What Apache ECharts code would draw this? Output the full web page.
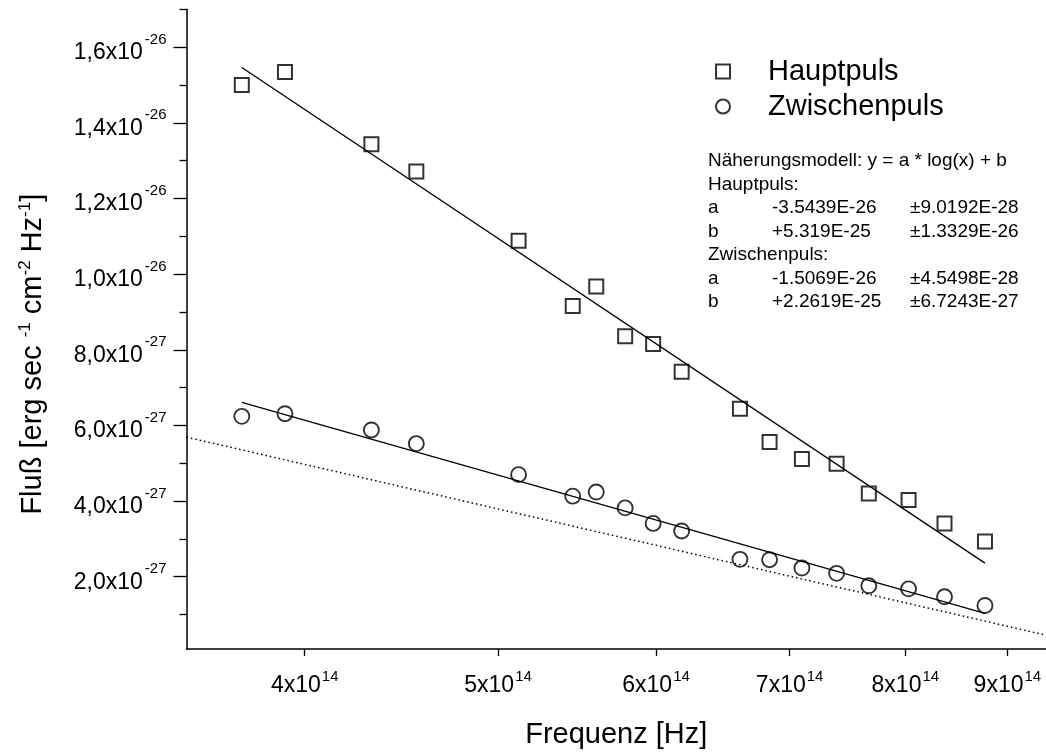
<!DOCTYPE html>
<html><head><meta charset="utf-8">
<script src="https://cdn.jsdelivr.net/npm/echarts@6/dist/echarts.min.js"></script>
<style>html,body{margin:0;padding:0;background:#fff}#c{width:1046px;height:754px}</style>
</head><body><div id="c"></div>
<script>
// Frequencies in Hz
const frequencies = [3.72e14, 3.91e14, 4.32e14, 4.55e14, 5.12e14, 5.45e14, 5.60e14, 5.79e14, 5.98e14, 6.18e14, 6.61e14, 6.84e14, 7.10e14, 7.39e14, 7.67e14, 8.03e14, 8.37e14, 8.77e14];
// Flux in units of 1e-27 erg s^-1 cm^-2 Hz^-1
const hauptpuls = [15.0, 15.34, 13.43, 12.71, 10.88, 9.16, 9.67, 8.36, 8.15, 7.42, 6.44, 5.56, 5.11, 4.99, 4.20, 4.03, 3.41, 2.93];
const zwischenpuls = [6.24, 6.31, 5.88, 5.52, 4.70, 4.13, 4.24, 3.82, 3.41, 3.21, 2.46, 2.45, 2.23, 2.09, 1.76, 1.68, 1.47, 1.24];
// fit lines (end points)
const fitHauptX = [3.72e14, 8.77e14];
const fitHauptY = [15.46, 2.36];
const fitZwischenX = [3.72e14, 8.77e14];
const fitZwischenY = [6.61, 1.03];
// dotted reference line
const dottedX = [3.49e14, 9.41e14];
const dottedY = [5.69, 0.455];
// axis ranges
const xRangeHz = [3.49e14, 9.41e14];
const yRange = [0.09, 17.0];
// ticks
const xTickHz = [4e14, 5e14, 6e14, 7e14, 8e14, 9e14];
const xTickMantissa = ['4', '5', '6', '7', '8', '9'];
const xTickExp = ['14', '14', '14', '14', '14', '14'];
const yTickValues = [2, 4, 6, 8, 10, 12, 14, 16];
const yTickMantissa = ['2,0', '4,0', '6,0', '8,0', '1,0', '1,2', '1,4', '1,6'];
const yTickExp = ['-27', '-27', '-27', '-27', '-26', '-26', '-26', '-26'];
const yMinorTicks = [1, 3, 5, 7, 9, 11, 13, 15, 17];
// legend / annotation text
const seriesNames = ['Hauptpuls', 'Zwischenpuls'];
const modelText = 'Näherungsmodell: y = a * log(x) + b';
const fitParamNames = ['a', 'b'];
const fitHauptParams = ['-3.5439E-26', '+5.319E-25'];
const fitHauptErrors = ['±9.0192E-28', '±1.3329E-26'];
const fitZwischenParams = ['-1.5069E-26', '+2.2619E-25'];
const fitZwischenErrors = ['±4.5498E-28', '±6.7243E-27'];

const FONT = '"Liberation Sans", Arial, Helvetica, sans-serif';
const lg = v => Math.log10(v);
const pairs = (xs, ys) => xs.map((x, i) => [lg(x), ys[i]]);

const chart = echarts.init(document.getElementById('c'), null, {renderer: 'canvas'});

function xLabel(v) {
  const hz = Math.pow(10, v);
  let idx = 0, best = Infinity;
  xTickHz.forEach((t, i) => { const d = Math.abs(t - hz); if (d < best) { best = d; idx = i; } });
  return '{m|' + xTickMantissa[idx] + 'x10}{e|' + xTickExp[idx] + '}';
}
function yLabel(v) {
  let idx = 0, best = Infinity;
  yTickValues.forEach((t, i) => { const d = Math.abs(t - v); if (d < best) { best = d; idx = i; } });
  return '{m|' + yTickMantissa[idx] + 'x10}{e|' + yTickExp[idx] + '}';
}

// annotation block
const annX = 708, annY = 163, annDy = 23.5, annFont = 19;
const colX = [708, 772, 910];
const ann = [];
function addText(x, y, t) {
  ann.push({type: 'text', left: x, top: y - annFont * 0.6, silent: true,
    style: {text: t, font: annFont + 'px ' + FONT, fill: '#000'}});
}
addText(annX, annY, modelText);
addText(annX, annY + annDy, seriesNames[0] + ':');
fitParamNames.forEach((p, i) => {
  const y = annY + annDy * (2 + i);
  addText(colX[0], y, p); addText(colX[1], y, fitHauptParams[i]); addText(colX[2], y, fitHauptErrors[i]);
});
addText(annX, annY + annDy * 4, seriesNames[1] + ':');
fitParamNames.forEach((p, i) => {
  const y = annY + annDy * (5 + i);
  addText(colX[0], y, p); addText(colX[1], y, fitZwischenParams[i]); addText(colX[2], y, fitZwischenErrors[i]);
});

const option = {
  animation: false,
  backgroundColor: '#fff',
  textStyle: {fontFamily: FONT, color: '#000'},
  grid: {left: 186.5, top: 9.3, right: 0, bottom: 101.7, containLabel: false},
  legend: {
    data: seriesNames, orient: 'vertical', left: 710, top: 52,
    itemWidth: 14, itemHeight: 14, itemGap: 6, selectedMode: false,
    textStyle: {fontSize: 29, fontFamily: FONT, color: '#000', padding: [0, 0, 0, 33]}
  },
  xAxis: {
    type: 'value', min: lg(xRangeHz[0]), max: lg(xRangeHz[1]),
    name: 'Frequenz [Hz]', nameLocation: 'middle', nameGap: 71,
    nameTextStyle: {fontSize: 29, fontFamily: FONT, color: '#000'},
    axisLine: {show: true, onZero: false, lineStyle: {color: '#000', width: 1.5}},
    axisTick: {show: true, length: 7, customValues: xTickHz.map(lg), lineStyle: {color: '#000', width: 1.3}},
    axisLabel: {customValues: xTickHz.map(lg), formatter: xLabel, margin: 16,
      rich: {m: {fontSize: 23, fontFamily: FONT, color: '#000', padding: [9, 0, 0, 0]},
             e: {fontSize: 15, fontFamily: FONT, color: '#000', padding: [0, 0, 9, 1]}}},
    splitLine: {show: false}
  },
  yAxis: [{
    type: 'value', min: yRange[0], max: yRange[1], position: 'left',
    name: 'Fluß [erg sec {e|-1} cm{e|-2} Hz{e|-1}]', nameLocation: 'middle', nameGap: 138,
    nameTextStyle: {fontSize: 29, fontFamily: FONT, color: '#000', padding: [0, 50, 0, 0],
      rich: {e: {fontSize: 17, fontFamily: FONT, color: '#000', padding: [0, 0, 15, 0]}}},
    axisLine: {show: true, onZero: false, lineStyle: {color: '#000', width: 1.5}},
    axisTick: {show: true, length: 13, customValues: yTickValues, lineStyle: {color: '#000', width: 1.3}},
    axisLabel: {customValues: yTickValues, formatter: yLabel, margin: 20,
      rich: {m: {fontSize: 23, fontFamily: FONT, color: '#000', padding: [11, 0, 0, 0]},
             e: {fontSize: 15, fontFamily: FONT, color: '#000', padding: [2, 0, 17, 2]}}},
    splitLine: {show: false}
  }, {
    type: 'value', min: yRange[0], max: yRange[1], position: 'left', offset: 0,
    axisLine: {show: false},
    axisTick: {show: true, length: 7, customValues: yMinorTicks, lineStyle: {color: '#000', width: 1.3}},
    axisLabel: {show: false}, splitLine: {show: false}
  }],
  series: [
    {name: 'dotted', type: 'line', data: pairs(dottedX, dottedY), showSymbol: false, silent: true,
     lineStyle: {color: '#000', width: 1.5, type: [1.5, 3]}, z: 1},
    {name: 'fitHaupt', type: 'line', data: pairs(fitHauptX, fitHauptY), showSymbol: false, silent: true,
     lineStyle: {color: '#000', width: 1.3}, z: 1},
    {name: 'fitZwischen', type: 'line', data: pairs(fitZwischenX, fitZwischenY), showSymbol: false, silent: true,
     lineStyle: {color: '#000', width: 1.3}, z: 1},
    {name: seriesNames[0], type: 'scatter', data: pairs(frequencies, hauptpuls), symbol: 'rect', symbolSize: 14,
     itemStyle: {color: 'rgba(255,255,255,0)', borderColor: '#000', borderWidth: 2}, z: 3},
    {name: seriesNames[1], type: 'scatter', data: pairs(frequencies, zwischenpuls), symbol: 'circle', symbolSize: 15,
     itemStyle: {color: 'rgba(255,255,255,0)', borderColor: '#000', borderWidth: 1.9}, z: 3}
  ],
  graphic: ann
};
chart.setOption(option);
</script></body></html>
